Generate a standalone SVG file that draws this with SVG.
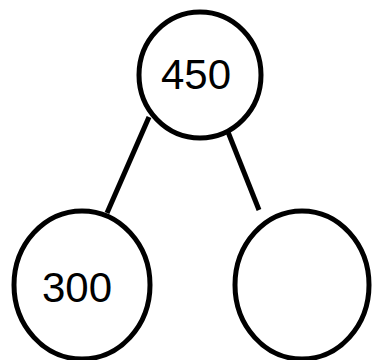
<svg xmlns="http://www.w3.org/2000/svg" width="372" height="360" viewBox="0 0 372 360">
<style>
.c{fill:#fff;stroke:#000;stroke-width:5}
.l{stroke:#000;stroke-width:5;fill:none}
.t{font-family:"Liberation Sans",Arial,sans-serif;font-size:42px;fill:#000;text-anchor:middle}
</style>
<rect width="372" height="360" fill="#fff"/>
<g id="connectors">
<line class="l" x1="149" y1="117" x2="107" y2="213"/>
<line class="l" x1="228" y1="132" x2="259" y2="210"/>
</g>
<g id="top">
<ellipse class="c" cx="200" cy="75" rx="61" ry="63"/>
<text class="t" x="196" y="89">450</text>
</g>
<g id="left">
<ellipse class="c" cx="82" cy="285" rx="68" ry="74"/>
<text class="t" x="77" y="302">300</text>
</g>
<g id="right">
<ellipse class="c" cx="302" cy="285" rx="67" ry="74"/>
</g>
</svg>
